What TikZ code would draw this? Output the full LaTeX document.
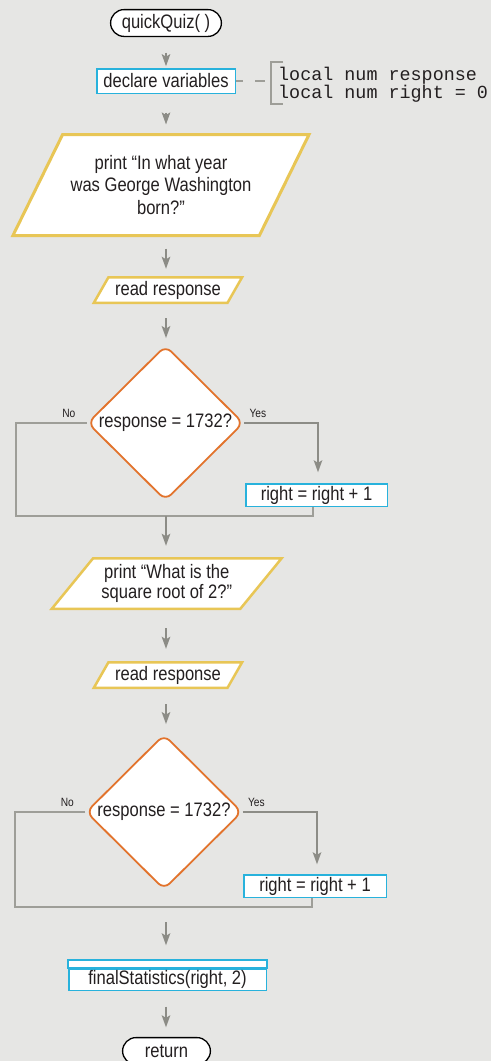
\documentclass[tikz,border=0pt]{standalone}
\usepackage{fontspec}
\setmainfont{Liberation Sans}[FakeStretch=0.85]
\newfontfamily\codefont{Liberation Mono}
\usetikzlibrary{shapes.geometric,arrows.meta}

\definecolor{bg}{RGB}{230,230,228}
\definecolor{linegray}{RGB}{158,158,152}
\definecolor{arrowgray}{RGB}{140,140,134}
\definecolor{ink}{RGB}{35,31,32}
\definecolor{procblue}{RGB}{40,178,220}
\definecolor{ioyellow}{RGB}{232,198,86}
\definecolor{decorange}{RGB}{226,115,44}

\tikzset{
  conn/.style={draw=linegray, line width=1.8pt},
  arr/.style={draw=arrowgray, line width=1.8pt,
    -{Stealth[length=12pt,width=8.5pt,inset=2.5pt]}},
  txt/.style={text=ink, font=\fontsize{19.5}{22.5}\selectfont, align=center},
  term/.style={txt, draw=black, line width=1.3pt, fill=white,
    rounded corners=13.4pt, inner sep=0pt},
  proc/.style={txt, draw=procblue, line width=1.5pt, fill=white, inner sep=0pt},
  io/.style={txt, draw=ioyellow, fill=white, trapezium, trapezium stretches=true,
    inner sep=0pt},
  decision/.style={txt, diamond, draw=decorange, line width=1.8pt, fill=white,
    rounded corners=8pt, inner sep=0pt, minimum width=156pt, minimum height=155pt},
  lbl/.style={text=ink, font=\fontsize{12}{14}\selectfont, inner sep=0pt},
  codetxt/.style={text=ink, font=\codefont\fontsize{18.4}{18}\selectfont,
    align=left, inner sep=0pt}
}

\begin{document}
\begin{tikzpicture}[x=1pt,y=-1pt]
  \fill[bg] (0,0) rectangle (491,1061);
  \useasboundingbox (0,0) rectangle (491,1061);

  % vertical spine of the main flow
  \coordinate (spine) at (166,0);

  % start and declarations
  \node[term, minimum width=110.8pt, minimum height=26.8pt] (qq) at (166,23) {quickQuiz( )};
  \node[proc, minimum width=138.5pt, minimum height=24.5pt] (decl) at (166,81) {declare variables};
  \node[codetxt, anchor=north west] (vars) at (278,66.5) {local num response\\local num right = 0};
  \coordinate (brk) at (271,81);
  \draw[conn, line width=1.5pt, dash pattern=on 7pt off 12pt on 10pt off 6pt] (decl.east) -- (brk);
  \draw[conn, line width=1.5pt] (283,62) -| (brk) |- (283,104);

  % first question
  \node[io, line width=3pt, minimum width=297pt, minimum height=101pt,
    trapezium left angle=52.4, trapezium right angle=127.6] (p1) at (161,185)
    {print “In what year\\was George Washington\\born?”};
  \node[io, line width=2.5pt, minimum width=148.5pt, minimum height=25.5pt,
    trapezium left angle=54.5, trapezium right angle=125.5] (r1) at (168,290) {read response};
  \node[decision] (d1) at (165.5,423) {response = 1732?};
  \node[proc, minimum width=141.5pt, minimum height=22.5pt] (b1) at (316.5,495) {right = right + 1};
  \node[lbl, anchor=base east] (no1) at ([xshift=-11pt,yshift=6pt]d1.west) {No};
  \node[lbl, anchor=base west] (yes1) at ([xshift=5pt,yshift=6pt]d1.east) {Yes};

  % second question
  \node[io, line width=2.5pt, minimum width=230.5pt, minimum height=50.5pt,
    trapezium left angle=45.5, trapezium right angle=134.5,
    font=\fontsize{19.5}{15.5}\selectfont] (p2) at (166.75,583.5)
    {print “What is the\\square root of 2?”};
  \node[io, line width=2.5pt, minimum width=148.5pt, minimum height=25.5pt,
    trapezium left angle=54.5, trapezium right angle=125.5] (r2) at (168,675) {read response};
  \node[decision] (d2) at (164,812) {response = 1732?};
  \node[proc, minimum width=142.5pt, minimum height=22.5pt] (b2) at (315,886) {right = right + 1};
  \node[lbl, anchor=base east] (no2) at ([xshift=-11pt,yshift=6pt]d2.west) {No};
  \node[lbl, anchor=base west] (yes2) at ([xshift=5pt,yshift=6pt]d2.east) {Yes};

  % closing steps
  \node[proc, minimum width=197.5pt, minimum height=21.5pt] (fs) at (167.5,979.5) {finalStatistics(right, 2)};
  \draw[procblue, line width=1.5pt, fill=white] (fs.north west) rectangle ([yshift=8pt]fs.north east);
  \node[term, minimum width=87.8pt, minimum height=26.8pt] (ret) at (166.5,1051) {return};

  % main flow arrows
  \draw[arr, shorten <=15.6pt, shorten >=1.8pt] (spine |- qq.south) -- (spine |- decl.north);
  \draw[arr, shorten <=18.7pt, shorten >=8.5pt] (spine |- decl.south) -- (spine |- p1.north);
  \draw[arr, shorten <=11.5pt, shorten >=7.2pt] (spine |- p1.south) -- (spine |- r1.north);
  \draw[arr, shorten <=14.2pt, shorten >=6.5pt] (spine |- r1.south) -- (spine |- d1.north);
  \draw[arr, shorten <=18.2pt, shorten >=12.2pt] (spine |- p2.south) -- (spine |- r2.north);
  \draw[arr, shorten <=15.2pt, shorten >=9.5pt] (spine |- r2.south) -- (spine |- d2.north);
  \draw[arr, shorten <=15.7pt, shorten >=9.6pt] (spine |- fs.south) -- (spine |- ret.north);

  % first decision branches
  \coordinate (m1) at (166,516);
  \coordinate (n1) at (16,516);
  \draw[arr, shorten >=10.7pt] (d1.east) -| ([xshift=1.5pt]b1.north);
  \draw[conn] (d1.west) -| (n1) -- ([xshift=-3.5pt]b1.south |- m1) -- ([xshift=-3.5pt]b1.south);
  \draw[arr, shorten >=11.2pt] (m1) -- (spine |- p2.north);

  % second decision branches
  \coordinate (m2) at (166,907);
  \coordinate (n2) at (15,907);
  \draw[arr, shorten >=9.7pt] (d2.east) -| ([xshift=2pt]b2.north);
  \draw[conn] (d2.west) -| (n2) -- ([xshift=-3pt]b2.south |- m2) -- ([xshift=-3pt]b2.south);
  \draw[arr, shorten <=15pt, shorten >=22.7pt] (m2) -- (spine |- fs.north);
\end{tikzpicture}
\end{document}
